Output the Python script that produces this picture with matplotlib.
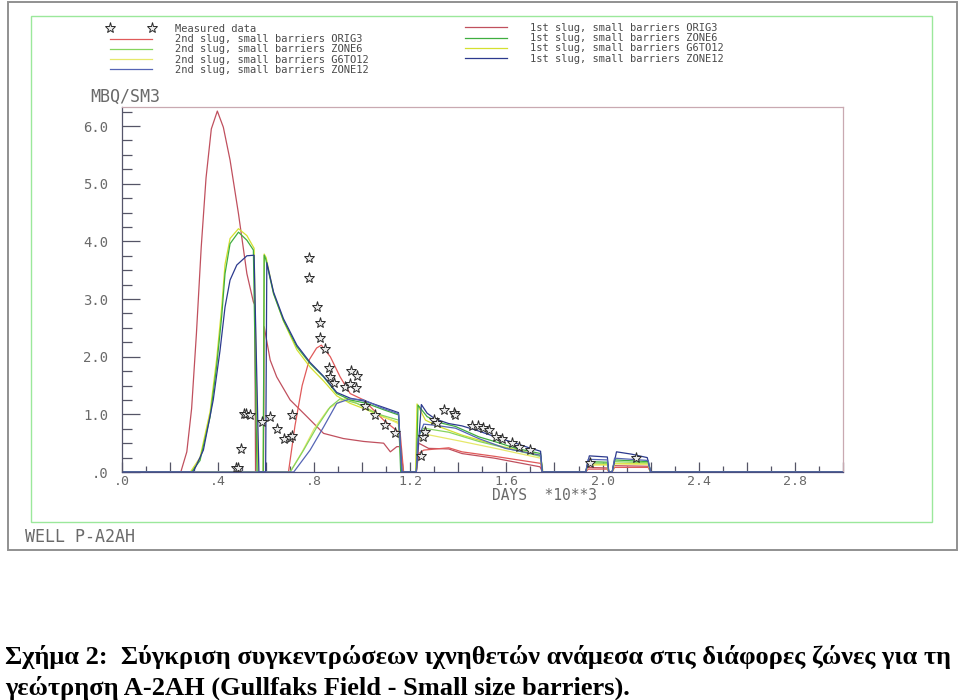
import numpy as np
import matplotlib.pyplot as plt
from matplotlib.patches import Rectangle
from matplotlib.ticker import FixedLocator, MultipleLocator

# measured tracer concentration (days *10**3, MBQ/SM3)
meas_days = [0.475, 0.485, 0.496, 0.506, 0.517, 0.533, 0.582, 0.617, 0.644, 0.675,
             0.70, 0.707, 0.707, 0.778, 0.778, 0.811, 0.825, 0.825, 0.844, 0.860,
             0.867, 0.883, 0.929, 0.95, 0.954, 0.978, 0.975, 1.013, 1.054, 1.096,
             1.135, 1.244, 1.253, 1.26, 1.297, 1.311, 1.342, 1.381, 1.387, 1.457,
             1.481, 1.503, 1.526, 1.558, 1.582, 1.623, 1.651, 1.697, 1.947, 2.138]
meas_conc = [0.065, 0.065, 0.40, 1.0, 1.0, 0.99, 0.87, 0.96, 0.74, 0.57,
             0.59, 0.62, 0.99, 3.71, 3.36, 2.86, 2.59, 2.33, 2.13, 1.81,
             1.65, 1.55, 1.47, 1.52, 1.75, 1.66, 1.45, 1.15, 0.99, 0.81,
             0.67, 0.27, 0.61, 0.69, 0.90, 0.85, 1.07, 1.02, 0.99, 0.80,
             0.79, 0.76, 0.72, 0.60, 0.58, 0.50, 0.44, 0.39, 0.16, 0.24]

# 1st slug, small barriers
s1_orig3_days = [0, 0.245, 0.27, 0.29, 0.31, 0.33, 0.35, 0.372, 0.397, 0.422, 0.45, 0.485,
                 0.52, 0.547, 0.553, 0.556, 0.589, 0.592, 0.617, 0.644, 0.70, 0.77,
                 0.839, 0.922, 1.006, 1.089, 1.117, 1.144, 1.158, 1.172, 1.225, 1.235,
                 1.276, 1.36, 1.415, 1.55, 1.74, 1.75, 1.93, 1.935, 2.02, 2.026, 2.04,
                 2.045, 2.19, 2.2, 3.0]
s1_orig3_conc = [0, 0, 0.35, 1.1, 2.4, 3.9, 5.1, 5.95, 6.26, 5.98, 5.41, 4.48,
                 3.44, 2.95, 2.9, 0, 0, 2.52, 1.94, 1.65, 1.25, 0.96,
                 0.67, 0.58, 0.53, 0.50, 0.35, 0.44, 0.44, 0, 0, 0.50,
                 0.41, 0.40, 0.32, 0.24, 0.09, 0, 0, 0.08, 0.07, 0, 0,
                 0.11, 0.10, 0, 0]

s1_zone6_days = [0, 0.29, 0.325, 0.367, 0.394, 0.415, 0.429, 0.45, 0.485, 0.52, 0.547,
                 0.562, 0.588, 0.592, 0.598, 0.631, 0.672, 0.728, 0.783, 0.839, 0.894,
                 0.95, 1.019, 1.089, 1.151, 1.16, 1.225, 1.232, 1.27, 1.318, 1.388,
                 1.485, 1.55, 1.64, 1.742, 1.75, 1.93, 1.94, 2.02, 2.026, 2.04, 2.05,
                 2.19, 2.2, 3.0]
s1_zone6_conc = [0, 0, 0.2, 0.96, 1.83, 2.69, 3.44, 3.96, 4.16, 4.02, 3.85,
                 0, 0, 3.76, 3.7, 3.09, 2.63, 2.17, 1.88, 1.65, 1.36,
                 1.25, 1.19, 1.08, 0.99, 0, 0, 1.16, 0.96, 0.86, 0.79,
                 0.61, 0.53, 0.41, 0.32, 0, 0, 0.18, 0.17, 0, 0, 0.21,
                 0.18, 0, 0]

s1_g6to12_days = [0, 0.285, 0.325, 0.367, 0.394, 0.415, 0.429, 0.45, 0.485, 0.52, 0.55,
                  0.566, 0.588, 0.592, 0.6, 0.631, 0.672, 0.728, 0.783, 0.839, 0.894,
                  0.95, 1.019, 1.089, 1.151, 1.165, 1.222, 1.228, 1.263, 1.318, 1.415,
                  1.554, 1.742, 1.752, 1.93, 1.94, 2.02, 2.026, 2.04, 2.05, 2.19, 2.2, 3.0]
s1_g6to12_conc = [0, 0, 0.25, 1.05, 1.95, 2.85, 3.6, 4.05, 4.22, 4.1, 3.88,
                  0, 0, 3.78, 3.72, 3.1, 2.62, 2.12, 1.82, 1.58, 1.32,
                  1.19, 1.08, 0.95, 0.86, 0, 0, 1.18, 0.90, 0.79, 0.64,
                  0.47, 0.29, 0, 0, 0.14, 0.13, 0, 0, 0.15, 0.14, 0, 0]

s1_zone12_days = [0, 0.297, 0.339, 0.38, 0.408, 0.429, 0.45, 0.478, 0.52, 0.55, 0.57,
                  0.598, 0.603, 0.631, 0.672, 0.728, 0.783, 0.839, 0.894, 0.95, 1.019,
                  1.089, 1.151, 1.165, 1.225, 1.246, 1.27, 1.304, 1.36, 1.415, 1.471,
                  1.554, 1.638, 1.694, 1.742, 1.749, 1.93, 1.945, 2.02, 2.026, 2.04,
                  2.058, 2.12, 2.186, 2.2, 3.0]
s1_zone12_conc = [0, 0, 0.38, 1.25, 2.1, 2.86, 3.33, 3.59, 3.75, 3.76, 0,
                  0, 3.63, 3.12, 2.66, 2.2, 1.9, 1.66, 1.38, 1.28, 1.22,
                  1.12, 1.03, 0, 0, 1.17, 1.02, 0.92, 0.84, 0.80, 0.73,
                  0.61, 0.50, 0.42, 0.36, 0, 0, 0.28, 0.26, 0, 0,
                  0.35, 0.31, 0.25, 0, 0]

# 2nd slug, small barriers
s2_orig3_days = [0, 0.693, 0.72, 0.75, 0.78, 0.81, 0.83, 0.867, 0.908, 0.95, 1.006,
                 1.089, 1.158, 1.172, 1.225, 1.235, 1.256, 1.36, 1.415, 1.554, 1.742,
                 1.75, 1.93, 1.94, 2.02, 2.026, 2.04, 2.05, 2.19, 2.2, 3.0]
s2_orig3_conc = [0, 0, 0.8, 1.5, 1.95, 2.15, 2.2, 2.0, 1.65, 1.36, 1.25,
                 0.9, 0.67, 0, 0, 0.32, 0.38, 0.42, 0.35, 0.27, 0.15,
                 0, 0, 0.05, 0.05, 0, 0, 0.08, 0.08, 0, 0]

s2_zone6_days = [0, 0.70, 0.756, 0.811, 0.867, 0.908, 0.978, 1.061, 1.151, 1.165, 1.225,
                 1.232, 1.256, 1.36, 1.485, 1.742, 1.75, 1.93, 1.94, 2.02, 2.026,
                 2.04, 2.05, 2.19, 2.2, 3.0]
s2_zone6_conc = [0, 0, 0.38, 0.78, 1.13, 1.27, 1.19, 1.01, 0.9, 0, 0,
                 0.61, 0.76, 0.69, 0.53, 0.27, 0, 0, 0.16, 0.15, 0,
                 0, 0.18, 0.16, 0, 0]

s2_g6to12_days = [0, 0.70, 0.75, 0.80, 0.86, 0.93, 1.0, 1.08, 1.15, 1.165, 1.225,
                  1.232, 1.27, 1.415, 1.554, 1.742, 1.75, 1.93, 1.94, 2.02, 2.026,
                  2.04, 2.05, 2.19, 2.2, 3.0]
s2_g6to12_conc = [0, 0, 0.35, 0.75, 1.1, 1.28, 1.15, 0.98, 0.84, 0, 0,
                  0.53, 0.65, 0.53, 0.41, 0.24, 0, 0, 0.12, 0.12, 0,
                  0, 0.14, 0.13, 0, 0]

s2_zone12_days = [0, 0.715, 0.783, 0.839, 0.894, 0.95, 1.006, 1.089, 1.151, 1.165, 1.225,
                  1.232, 1.256, 1.304, 1.388, 1.485, 1.596, 1.742, 1.749, 1.93, 1.94,
                  2.02, 2.026, 2.04, 2.05, 2.19, 2.2, 3.0]
s2_zone12_conc = [0, 0, 0.38, 0.78, 1.19, 1.27, 1.25, 1.1, 1.01, 0, 0,
                  0.58, 0.83, 0.81, 0.76, 0.58, 0.41, 0.29, 0, 0, 0.22,
                  0.21, 0, 0, 0.24, 0.20, 0, 0]

x_labels = ['.0', '', '.4', '', '.8', '', '1.2', '', '1.6', '', '2.0', '', '2.4', '', '2.8', '']
y_labels = ['.0', '1.0', '2.0', '3.0', '4.0', '5.0', '6.0']

mono = 'DejaVu Sans Mono'
txt_gray = '#6a6a6a'

fig = plt.figure(figsize=(9.6, 7.0), dpi=100)

# plotter frame boxes
fig.add_artist(Rectangle((0.0083, 0.2143), 0.9885, 0.783, transform=fig.transFigure,
                         fill=False, ec='#909090', lw=1.4))
fig.add_artist(Rectangle((0.0323, 0.2543), 0.9385, 0.723, transform=fig.transFigure,
                         fill=False, ec='#9be89b', lw=1.0))

ax = fig.add_axes([0.127, 0.3257, 0.751, 0.5214])

lw = 0.9
h1o, = ax.plot(s1_orig3_days, s1_orig3_conc, color='#c0505e', lw=lw)
h2o, = ax.plot(s2_orig3_days, s2_orig3_conc, color='#e05a5a', lw=lw)
h1y, = ax.plot(s1_g6to12_days, s1_g6to12_conc, color='#d4e030', lw=lw)
h2y, = ax.plot(s2_g6to12_days, s2_g6to12_conc, color='#e6e86a', lw=lw)
h1g, = ax.plot(s1_zone6_days, s1_zone6_conc, color='#3fae3f', lw=lw)
h2g, = ax.plot(s2_zone6_days, s2_zone6_conc, color='#86d45e', lw=lw)
h1b, = ax.plot(s1_zone12_days, s1_zone12_conc, color='#2c3a8e', lw=lw)
h2b, = ax.plot(s2_zone12_days, s2_zone12_conc, color='#5565b5', lw=lw)
hm, = ax.plot(meas_days, meas_conc, ls='none', marker='*', ms=8,
              mfc='#ececec', mec='#2a2a2a', mew=0.7)

ax.set_xlim(0, 3.0)
ax.set_ylim(0, 6.33)

ax.xaxis.set_major_locator(FixedLocator(np.arange(0, 3.01, 0.2)))
ax.set_xticklabels(x_labels)
ax.xaxis.set_minor_locator(MultipleLocator(0.1))
ax.yaxis.set_major_locator(FixedLocator(np.arange(0, 7, 1.0)))
ax.set_yticklabels(y_labels)
ax.yaxis.set_minor_locator(MultipleLocator(0.25))

ax.tick_params(axis='both', which='both', direction='in', colors='#555566', width=0.9)
ax.tick_params(axis='x', which='major', length=7, pad=2, labelsize=9.5, labelcolor=txt_gray)
ax.tick_params(axis='x', which='minor', length=4)
ax.tick_params(axis='y', which='major', length=13, pad=10, labelsize=10, labelcolor=txt_gray)
ax.tick_params(axis='y', which='minor', length=7)
for lab in ax.get_xticklabels() + ax.get_yticklabels():
    lab.set_family(mono)

ax.spines['top'].set_color('#c9a9b1')
ax.spines['right'].set_color('#c9a9b1')
ax.spines['left'].set_color('#55556a')
ax.spines['bottom'].set_color('#4a4f80')
for sp in ax.spines.values():
    sp.set_linewidth(0.9)

fig.text(90 / 960, 1 - 97 / 700, 'MBQ/SM3', family=mono, size=12, color=txt_gray, va='center')
fig.text(545 / 960, 1 - 495 / 700, 'DAYS  *10**3', family=mono, size=10.5, color=txt_gray,
         va='center', ha='center')
fig.text(25 / 960, 1 - 537 / 700, 'WELL P-A2AH', family=mono, size=12, color=txt_gray,
         va='center')

leg_kw = dict(frameon=False, prop={'family': mono, 'size': 7.5}, labelcolor='#4a4a4a',
              numpoints=2, handlelength=4.6, handletextpad=1.9, labelspacing=0.02,
              borderpad=0, borderaxespad=0, loc='upper left')
leg1 = fig.legend([hm, h2o, h2g, h2y, h2b],
                  ['Measured data',
                   '2nd slug, small barriers ORIG3',
                   '2nd slug, small barriers ZONE6',
                   '2nd slug, small barriers G6TO12',
                   '2nd slug, small barriers ZONE12'],
                  bbox_to_anchor=(107 / 960, 1 - 24 / 700), **leg_kw)
leg2 = fig.legend([h1o, h1g, h1y, h1b],
                  ['1st slug, small barriers ORIG3',
                   '1st slug, small barriers ZONE6',
                   '1st slug, small barriers G6TO12',
                   '1st slug, small barriers ZONE12'],
                  bbox_to_anchor=(462 / 960, 1 - 23 / 700), **leg_kw)

cap_kw = dict(family='Liberation Serif', weight='bold', size=19, color='black', va='center')
fig.text(5 / 960, 1 - 657 / 700,
         'Σχήμα 2:  Σύγκριση συγκεντρώσεων ιχνηθετών ανάμεσα στις διάφορες ζώνες για τη',
         **cap_kw)
fig.text(5 / 960, 1 - 688 / 700,
         'γεώτρηση A-2AH (Gullfaks Field - Small size barriers).', **cap_kw)

fig.savefig('out.png', dpi=100)
